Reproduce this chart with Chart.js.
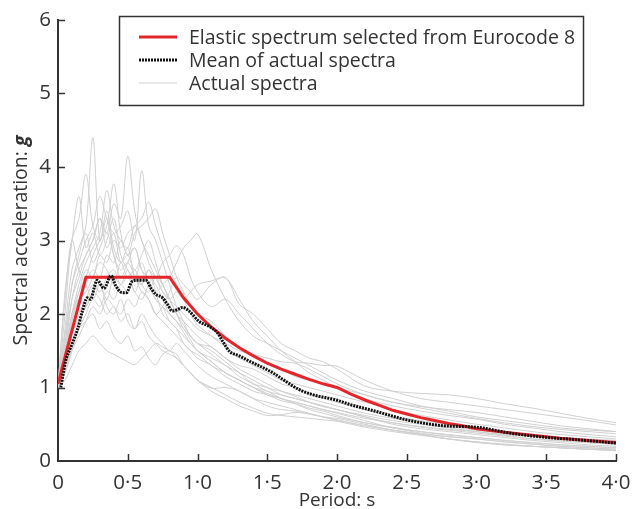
<!DOCTYPE html>
<html><head><meta charset="utf-8">
<script src="https://cdn.jsdelivr.net/npm/chart.js@4"></script>
<style>html,body{margin:0;padding:0;background:#fff}</style>
</head><body>
<canvas id="c" width="633" height="509"></canvas>
<script>
// ---- data ----
const legendLabels = ["Elastic spectrum selected from Eurocode 8", "Mean of actual spectra", "Actual spectra"];
const xTitle = "Period: s";
const yTitleMain = "Spectral acceleration: ";
const yTitleVar = "g";
const xTickValues = [0, 0.5, 1.0, 1.5, 2.0, 2.5, 3.0, 3.5, 4.0];
const xTickLabels = ["0", "0·5", "1·0", "1·5", "2·0", "2·5", "3·0", "3·5", "4·0"];
const yTickLabels = ["0", "1", "2", "3", "4", "5", "6"];

const ecPeriods = [0, 0.2, 0.8, 0.9, 1.0, 1.1, 1.2, 1.3, 1.4, 1.5, 1.6, 1.7, 1.8, 1.9, 2.0, 2.1, 2.2, 2.3, 2.4, 2.5, 2.6, 2.7, 2.8, 2.9, 3.0, 3.2, 3.4, 3.6, 3.8, 4.0];
const ecValues  = [1.05, 2.5, 2.5, 2.22, 2.0, 1.82, 1.67, 1.54, 1.43, 1.33, 1.25, 1.18, 1.11, 1.05, 1.0, 0.91, 0.83, 0.76, 0.69, 0.64, 0.59, 0.55, 0.51, 0.48, 0.44, 0.39, 0.35, 0.31, 0.28, 0.25];

const meanPeriods = [0.02, 0.055, 0.09, 0.14, 0.175, 0.21, 0.235, 0.26, 0.28, 0.33, 0.38, 0.415, 0.46, 0.49, 0.53, 0.58, 0.63, 0.67, 0.70, 0.75, 0.785, 0.82, 0.857, 0.893, 0.94, 1.01, 1.085, 1.145, 1.18, 1.23, 1.30, 1.37, 1.47, 1.54, 1.635, 1.73, 1.83, 1.995, 2.09, 2.28, 2.50, 2.76, 3.0, 3.24, 3.48, 3.72, 4.0];
const meanValues  = [1.0, 1.36, 1.54, 1.79, 2.04, 2.22, 2.2, 2.36, 2.46, 2.35, 2.52, 2.38, 2.29, 2.29, 2.44, 2.46, 2.46, 2.34, 2.27, 2.22, 2.13, 2.04, 2.06, 2.09, 2.04, 1.90, 1.83, 1.74, 1.63, 1.49, 1.43, 1.36, 1.27, 1.20, 1.08, 0.97, 0.90, 0.83, 0.77, 0.675, 0.56, 0.48, 0.46, 0.38, 0.325, 0.29, 0.243];

const gridPeriods = [0, 0.05, 0.1, 0.15, 0.2, 0.25, 0.3, 0.35, 0.4, 0.45, 0.5, 0.55, 0.6, 0.65, 0.7, 0.75, 0.8, 0.85, 0.9, 0.95, 1.0, 1.1, 1.2, 1.3, 1.4, 1.5, 1.6, 1.7, 1.8, 1.9, 2.0, 2.2, 2.4, 2.6, 2.8, 3.0, 3.2, 3.4, 3.6, 3.8, 4.0];
const rec01 = [1.0, 1.8, 2.6, 2.9, 3.2, 4.4, 3.0, 3.4, 2.9, 2.7, 2.9, 2.5, 2.4, 2.6, 2.3, 2.0, 1.9, 1.8, 1.6, 1.5, 1.45, 1.3, 1.2, 1.1, 1.0, 0.95, 0.85, 0.8, 0.75, 0.7, 0.65, 0.55, 0.45, 0.4, 0.35, 0.32, 0.28, 0.25, 0.22, 0.2, 0.18];
const rec02 = [1.0, 1.5, 2.2, 2.6, 2.8, 3.0, 3.3, 3.1, 3.5, 3.3, 4.15, 3.4, 3.0, 2.8, 2.6, 2.4, 2.2, 2.0, 1.8, 1.7, 1.6, 1.5, 1.35, 1.2, 1.05, 1.0, 0.9, 0.85, 0.8, 0.75, 0.7, 0.62, 0.55, 0.5, 0.45, 0.4, 0.35, 0.3, 0.28, 0.25, 0.23];
const rec03 = [1.0, 1.6, 2.4, 2.7, 3.0, 3.2, 3.6, 3.3, 3.1, 3.2, 3.4, 3.0, 3.95, 3.2, 3.0, 2.7, 2.4, 2.1, 1.9, 1.7, 1.6, 1.55, 1.4, 1.3, 1.25, 1.15, 1.05, 1.0, 0.92, 0.85, 0.8, 0.7, 0.6, 0.55, 0.5, 0.45, 0.4, 0.35, 0.32, 0.3, 0.28];
const rec04 = [1.0, 2.0, 3.0, 3.3, 3.9, 3.2, 3.0, 3.3, 2.8, 2.6, 2.7, 2.5, 2.3, 2.2, 2.0, 1.9, 1.8, 1.7, 1.6, 1.5, 1.4, 1.3, 1.15, 1.05, 0.95, 0.9, 0.82, 0.78, 0.72, 0.68, 0.62, 0.52, 0.45, 0.38, 0.33, 0.3, 0.26, 0.23, 0.2, 0.18, 0.16];
const rec05 = [1.0, 2.3, 3.0, 3.6, 2.9, 3.1, 2.8, 3.0, 3.3, 2.8, 2.6, 2.5, 2.7, 2.4, 2.2, 2.1, 1.9, 1.8, 1.7, 1.6, 1.5, 1.35, 1.2, 1.1, 1.0, 0.9, 0.85, 0.78, 0.7, 0.65, 0.6, 0.52, 0.46, 0.4, 0.36, 0.32, 0.28, 0.25, 0.22, 0.2, 0.18];
const rec06 = [1.0, 1.4, 2.0, 2.4, 2.7, 2.9, 3.1, 3.68, 3.2, 3.0, 2.9, 3.2, 3.0, 2.7, 2.5, 2.3, 2.2, 2.0, 1.85, 1.7, 1.6, 1.45, 1.3, 1.2, 1.1, 1.0, 0.95, 0.9, 0.85, 0.8, 0.75, 0.65, 0.58, 0.52, 0.47, 0.42, 0.38, 0.34, 0.3, 0.28, 0.26];
const rec07 = [1.0, 1.3, 1.9, 2.3, 2.5, 2.8, 3.0, 3.2, 3.77, 3.1, 2.8, 2.9, 2.6, 2.5, 2.4, 2.2, 2.0, 1.9, 1.8, 1.65, 1.5, 1.4, 1.3, 1.15, 1.05, 0.95, 0.9, 0.85, 0.8, 0.75, 0.7, 0.6, 0.52, 0.46, 0.42, 0.38, 0.34, 0.3, 0.27, 0.25, 0.23];
const rec08 = [1.0, 1.4, 2.0, 2.3, 2.6, 2.5, 2.8, 2.7, 3.0, 2.9, 3.1, 3.2, 3.3, 3.52, 3.2, 2.9, 2.6, 2.4, 2.2, 2.0, 1.85, 1.7, 1.55, 1.4, 1.3, 1.2, 1.1, 1.05, 1.0, 0.95, 0.9, 0.8, 0.7, 0.62, 0.56, 0.5, 0.45, 0.4, 0.36, 0.33, 0.3];
const rec09 = [1.0, 1.3, 1.8, 2.1, 2.4, 2.6, 2.5, 2.8, 2.7, 3.0, 2.8, 3.1, 3.2, 3.3, 3.43, 3.1, 2.8, 2.5, 2.3, 2.1, 2.0, 1.9, 1.7, 1.55, 1.45, 1.35, 1.25, 1.15, 1.1, 1.05, 1.0, 0.9, 0.8, 0.72, 0.65, 0.58, 0.52, 0.47, 0.43, 0.4, 0.37];
const rec10 = [1.0, 1.2, 1.6, 1.9, 2.1, 2.3, 2.4, 2.2, 2.5, 2.4, 2.6, 2.3, 2.5, 2.4, 2.3, 2.4, 2.5, 2.7, 2.9, 3.0, 3.09, 2.6, 2.2, 1.9, 1.7, 1.6, 1.5, 1.4, 1.3, 1.2, 1.1, 0.95, 0.85, 0.75, 0.68, 0.6, 0.55, 0.5, 0.45, 0.42, 0.4];
const rec11 = [1.0, 1.2, 1.5, 1.8, 2.0, 2.2, 2.1, 2.3, 2.2, 2.4, 2.3, 2.5, 2.4, 2.6, 2.5, 2.7, 2.8, 2.93, 2.8, 2.5, 2.3, 2.1, 2.2, 2.0, 1.8, 1.6, 1.45, 1.35, 1.33, 1.3, 1.29, 1.1, 0.95, 0.85, 0.8, 0.75, 0.7, 0.65, 0.6, 0.55, 0.49];
const rec12 = [1.0, 1.2, 1.5, 1.7, 1.9, 2.1, 2.0, 2.2, 2.1, 2.0, 2.2, 2.1, 2.3, 2.2, 2.0, 2.1, 2.3, 2.5, 2.4, 2.3, 2.2, 2.4, 2.5, 2.13, 2.0, 1.8, 1.6, 1.5, 1.4, 1.35, 1.25, 1.02, 0.95, 0.92, 0.9, 0.85, 0.78, 0.72, 0.65, 0.58, 0.52];
const rec13 = [1.0, 1.1, 1.3, 1.5, 1.6, 1.7, 1.6, 1.5, 1.45, 1.4, 1.35, 1.31, 1.4, 1.5, 1.6, 1.55, 1.5, 1.45, 1.3, 1.2, 1.1, 1.0, 0.9, 0.8, 0.72, 0.65, 0.62, 0.6, 0.58, 0.56, 0.54, 0.46, 0.4, 0.35, 0.3, 0.25, 0.22, 0.2, 0.18, 0.16, 0.14];
const rec14 = [1.0, 1.3, 1.6, 1.8, 1.9, 2.0, 1.8, 1.9, 1.7, 1.6, 1.7, 1.5, 1.55, 1.4, 1.31, 1.45, 1.5, 1.4, 1.3, 1.2, 1.1, 0.99, 1.0, 0.95, 0.85, 0.75, 0.7, 0.68, 0.64, 0.6, 0.58, 0.5, 0.42, 0.36, 0.3, 0.26, 0.22, 0.2, 0.18, 0.16, 0.15];
const rec15 = [1.0, 1.5, 2.0, 2.2, 2.1, 2.3, 2.2, 2.0, 2.1, 1.9, 2.0, 1.8, 1.9, 1.7, 1.6, 1.5, 1.45, 1.4, 1.3, 1.2, 1.1, 0.95, 0.85, 0.75, 0.68, 0.62, 0.63, 0.66, 0.64, 0.6, 0.56, 0.48, 0.42, 0.36, 0.3, 0.26, 0.23, 0.2, 0.18, 0.16, 0.14];
const rec16 = [1.0, 1.6, 2.2, 2.5, 2.8, 3.0, 3.3, 2.9, 3.1, 2.7, 2.8, 2.6, 2.8, 3.0, 2.7, 2.4, 2.2, 2.0, 1.9, 1.8, 1.7, 1.55, 1.4, 1.25, 1.15, 1.05, 0.95, 0.88, 0.8, 0.74, 0.7, 0.6, 0.5, 0.44, 0.4, 0.36, 0.32, 0.28, 0.25, 0.22, 0.2];
const rec17 = [1.0, 1.3, 1.7, 2.0, 2.2, 2.4, 2.3, 2.5, 2.6, 2.4, 2.5, 2.3, 2.2, 2.4, 2.5, 2.3, 2.2, 2.3, 2.2, 2.3, 2.4, 2.45, 2.49, 2.2, 1.9, 1.7, 1.5, 1.35, 1.2, 1.1, 1.0, 0.85, 0.75, 0.68, 0.62, 0.57, 0.5, 0.45, 0.4, 0.36, 0.33];
const rec18 = [1.0, 1.4, 1.9, 2.2, 2.3, 2.5, 2.7, 2.6, 2.4, 2.7, 2.5, 2.6, 2.4, 2.3, 2.5, 2.4, 2.2, 2.1, 2.0, 1.9, 1.8, 1.7, 1.6, 1.5, 1.45, 1.4, 1.35, 1.33, 1.25, 1.15, 1.05, 0.9, 0.8, 0.74, 0.7, 0.66, 0.6, 0.54, 0.48, 0.44, 0.4];
const rec19 = [1.0, 2.2, 3.0, 2.6, 2.4, 2.2, 2.4, 2.1, 2.0, 2.2, 1.9, 1.8, 2.0, 1.85, 1.7, 1.6, 1.5, 1.6, 1.5, 1.4, 1.3, 1.15, 1.05, 0.95, 0.85, 0.8, 0.75, 0.7, 0.65, 0.6, 0.55, 0.48, 0.42, 0.37, 0.33, 0.3, 0.26, 0.23, 0.2, 0.18, 0.16];
const rec20 = [1.0, 1.7, 2.4, 2.8, 3.1, 2.7, 2.9, 3.1, 2.8, 2.5, 2.7, 2.9, 2.6, 2.4, 2.2, 2.1, 2.0, 1.9, 1.75, 1.6, 1.5, 1.35, 1.2, 1.1, 1.0, 0.92, 0.85, 0.8, 0.75, 0.7, 0.66, 0.58, 0.52, 0.47, 0.43, 0.4, 0.36, 0.33, 0.3, 0.27, 0.25];
const records = [rec01, rec02, rec03, rec04, rec05, rec06, rec07, rec08, rec09, rec10, rec11, rec12, rec13, rec14, rec15, rec16, rec17, rec18, rec19, rec20];

// ---- styles ----
const RED = '#e3262b', BLACK = '#111111', GREY = '#d0d0d0', AXIS = '#333333', TEXT = '#333333';
const FONT = '"Open Sans", "Noto Sans", sans-serif';

const pts = (xs, ys) => xs.map((x, i) => ({ x: x, y: ys[i] }));

const datasets = [];
datasets.push({ label: legendLabels[1], data: pts(meanPeriods, meanValues), borderColor: BLACK, borderWidth: 3, borderDash: [2, 1], pointRadius: 0, cubicInterpolationMode: 'monotone', order: 0 });
datasets.push({ label: legendLabels[0], data: pts(ecPeriods, ecValues), borderColor: RED, borderWidth: 3, pointRadius: 0, tension: 0, order: 1 });
records.forEach((r, i) => datasets.push({ label: legendLabels[2], data: pts(gridPeriods, r), borderColor: GREY, borderWidth: 1, pointRadius: 0, tension: 0.35, order: 2 }));

const decor = {
  id: 'decor',
  afterDraw(chart) {
    const ctx = chart.ctx, xs = chart.scales.x, ys = chart.scales.y;
    const ca = chart.chartArea;
    ctx.save();
    // inward ticks
    ctx.strokeStyle = AXIS; ctx.lineWidth = 1.5;
    xTickValues.forEach(v => { if (v === 0) return; const px = Math.round(xs.getPixelForValue(v)) + 0.5; ctx.beginPath(); ctx.moveTo(px, ca.bottom); ctx.lineTo(px, ca.bottom - 7); ctx.stroke(); });
    yTickLabels.forEach(t => { const v = +t; if (v === 0) return; const py = Math.round(ys.getPixelForValue(v)) + 0.5; ctx.beginPath(); ctx.moveTo(ca.left, py); ctx.lineTo(ca.left + 7, py); ctx.stroke(); });
    // axis titles
    ctx.fillStyle = TEXT;
    ctx.font = '19px ' + FONT;
    ctx.textAlign = 'center'; ctx.textBaseline = 'alphabetic';
    ctx.fillText(xTitle, (ca.left + ca.right) / 2, 506);
    ctx.save();
    ctx.translate(27, (ca.top + ca.bottom) / 2);
    ctx.rotate(-Math.PI / 2);
    ctx.font = '19.5px ' + FONT;
    const w1 = ctx.measureText(yTitleMain).width;
    ctx.font = 'italic bold 19.5px ' + FONT;
    const w2 = ctx.measureText(yTitleVar).width;
    const start = -(w1 + w2) / 2;
    ctx.textAlign = 'left';
    ctx.font = '19.5px ' + FONT;
    ctx.fillText(yTitleMain, start, 0);
    ctx.font = 'italic bold 19.5px ' + FONT;
    ctx.fillText(yTitleVar, start + w1, 0);
    ctx.restore();
    // legend box
    ctx.strokeStyle = AXIS; ctx.lineWidth = 1.5;
    ctx.strokeRect(119.5, 16.5, 464, 89);
    const rows = [37, 60, 83];
    const styles = [{ c: RED, w: 3, d: [] }, { c: BLACK, w: 3, d: [2, 1] }, { c: GREY, w: 1, d: [] }];
    [0, 1, 2].forEach((k, i) => {
      const s = styles[k];
      ctx.strokeStyle = s.c; ctx.lineWidth = s.w; ctx.setLineDash(s.d);
      ctx.beginPath(); ctx.moveTo(139, rows[i]); ctx.lineTo(177, rows[i]); ctx.stroke();
      ctx.setLineDash([]);
      ctx.fillStyle = TEXT; ctx.font = '19.5px ' + FONT; ctx.textAlign = 'left'; ctx.textBaseline = 'middle';
      ctx.fillText(legendLabels[k], 189, rows[i] + 1);
    });
    ctx.restore();
  }
};

new Chart(document.getElementById('c'), {
  type: 'line',
  data: { datasets: datasets },
  options: {
    responsive: false, animation: false, devicePixelRatio: 1,
    layout: { padding: { top: 20, right: 17, left: 0, bottom: 0 } },
    plugins: { legend: { display: false }, tooltip: { enabled: false } },
    scales: {
      x: {
        type: 'linear', min: 0, max: 4,
        afterBuildTicks: s => { s.ticks = xTickValues.map(v => ({ value: v })); },
        afterFit: s => { s.height = 48; s.paddingLeft = 0; s.paddingRight = 0; },
        grid: { display: false, drawTicks: false },
        border: { display: true, color: AXIS, width: 2 },
        ticks: { padding: 10, color: TEXT, font: { family: FONT, size: 20.5 }, maxRotation: 0, autoSkip: false,
          callback: (v) => { const i = xTickValues.indexOf(v); return i >= 0 ? xTickLabels[i] : ''; } }
      },
      y: {
        type: 'linear', min: 0, max: 6,
        afterBuildTicks: s => { s.ticks = yTickLabels.map(t => ({ value: +t })); },
        afterFit: s => { s.width = 58; s.paddingTop = 0; s.paddingBottom = 0; },
        grid: { display: false, drawTicks: false },
        border: { display: true, color: AXIS, width: 2 },
        ticks: { padding: 7, color: TEXT, font: { family: FONT, size: 20.5 },
          callback: (v) => { const i = yTickLabels.indexOf(String(v)); return i >= 0 ? yTickLabels[i] : ''; } }
      }
    }
  },
  plugins: [decor]
});
</script>
</body></html>
